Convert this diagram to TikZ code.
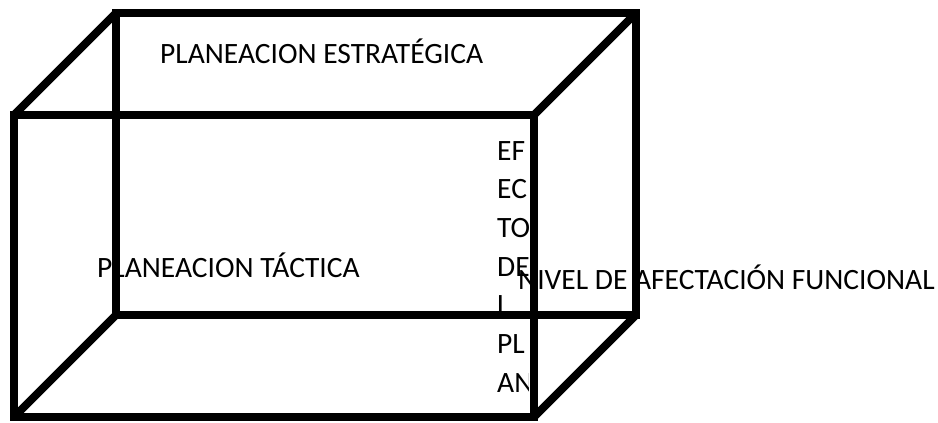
\documentclass[tikz,border=0pt]{standalone}
\usepackage{fontspec}
\setmainfont{Carlito}
\usepackage{tikz}

\tikzset{
	cubeline/.style={line width=8pt, black},
	label/.style={anchor=base west, inner sep=0pt, font=\fontsize{29.5}{36}\selectfont}
}

\begin{document}
\begin{tikzpicture}[x=1pt, y=-1pt]
		\useasboundingbox (0, 0) rectangle (938, 423);
		\coordinate (fa) at (14, 115);
		\coordinate (fb) at (534, 115);
		\coordinate (fc) at (534, 417);
		\coordinate (fd) at (14, 417);
		\coordinate (ba) at (116, 13);
		\coordinate (bb) at (636, 13);
		\coordinate (bc) at (636, 315);
		\coordinate (bd) at (116, 315);
		\node [label] (estrategica) at (160, 63) {PLANEACION ESTRATÉGICA};
		\node [label] (tactica) at (97, 277) {PLANEACION TÁCTICA};
		\begin{scope}
			\clip (490, 130) rectangle (528, 410);
			\foreach \t [count=\i] in {EF, EC, TO, DE, L, PL, AN}
				\node [label] (efecto\i) at (497, {160 + 38.7*(\i - 1)}) {\t};
		\end{scope}
		\node [label] (nivel) at (518, 289) {NIVEL DE AFECTACIÓN FUNCIONAL};
		\draw [cubeline] (ba) -- (bb) -- (bc) -- (bd) -- cycle;
		\draw [cubeline] (fa) -- (ba);
		\draw [cubeline] (fb) -- (bb);
		\draw [cubeline] (fc) -- (bc);
		\draw [cubeline] (fd) -- (bd);
		\draw [cubeline] (fa) -- (fb) -- (fc) -- (fd) -- cycle;
	\end{tikzpicture}
\end{document}
